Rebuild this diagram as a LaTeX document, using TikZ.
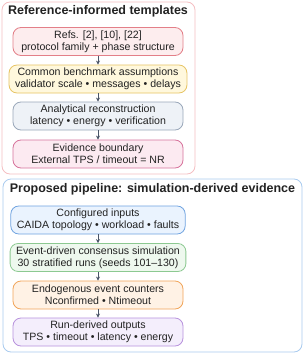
\documentclass[tikz,border=0pt]{standalone}
\usepackage{fontspec}
\setmainfont{Liberation Sans}
\usetikzlibrary{positioning,arrows.meta}

\definecolor{txtc}{HTML}{222222}
\definecolor{arrc}{HTML}{4A5568}
\definecolor{redf}{HTML}{FDEDEE}\definecolor{redd}{HTML}{E37F88}
\definecolor{yelf}{HTML}{FFF8DD}\definecolor{yeld}{HTML}{E6C362}
\definecolor{grYf}{HTML}{EEF2F7}\definecolor{grYd}{HTML}{9AA8BA}
\definecolor{pnkf}{HTML}{FCEAF1}\definecolor{pnkd}{HTML}{D7739C}
\definecolor{bluf}{HTML}{EAF3FE}\definecolor{blud}{HTML}{6FA3E0}
\definecolor{grnf}{HTML}{EEF8EE}\definecolor{grnd}{HTML}{8CC991}
\definecolor{orgf}{HTML}{FFF2E5}\definecolor{orgd}{HTML}{F1A55A}
\definecolor{purf}{HTML}{F4EEFC}\definecolor{purd}{HTML}{B892DD}
\definecolor{topd}{HTML}{F5BFC2}
\definecolor{botd}{HTML}{A9CBEF}

\tikzset{
  stage/.style={draw=#1d, fill=#1f, rounded corners=8pt, line width=0.8pt,
    align=center, minimum width=170pt, minimum height=28pt,
    inner xsep=6pt, inner ysep=2pt, text=txtc,
    font=\fontsize{10.6}{11.8}\selectfont},
  panel/.style={draw=#1, fill=white, rounded corners=8pt, line width=0.8pt},
  paneltitle/.style={font=\fontsize{12.5}{14}\selectfont\bfseries, text=txtc},
  flow/.style={-{Stealth[length=4pt,width=4pt]}, arrc, line width=0.8pt}
}

\begin{document}
\begin{tikzpicture}[x=1pt,y=-1pt]
\useasboundingbox (0,0) rectangle (305,361);

% reference side
\draw[panel=topd] (2,2) rectangle (195,174);
\node[paneltitle] (ttop) at (98,11) {Reference-informed templates};
\node[stage=red] (refs) at (98,41.5) {Refs. [2], [10], [22]\\protocol family + phase structure};
\node[stage=yel] (assume) at (98,79) {Common benchmark assumptions\\validator scale • messages • delays};
\node[stage=grY] (recon) at (98,116) {Analytical reconstruction\\latency • energy • verification};
\node[stage=pnk] (bound) at (98,154) {Evidence boundary\\External TPS / timeout = NR};
\draw[flow] (refs) -- (assume);
\draw[flow] (assume) -- (recon);
\draw[flow] (recon) -- (bound);

% simulation side
\draw[panel=botd] (3,179) rectangle (302,352);
\node[paneltitle] (tbot) at (152.5,189) {Proposed pipeline: simulation-derived evidence};
\node[stage=blu] (inputs) at (98,220) {Configured inputs\\CAIDA topology • workload • faults};
\node[stage=grn] (sim) at (98,257.5) {Event-driven consensus simulation\\30 stratified runs (seeds 101--130)};
\node[stage=org] (count) at (98,295) {Endogenous event counters\\Nconfirmed • Ntimeout};
\node[stage=pur] (outs) at (98,332) {Run-derived outputs\\TPS • timeout • latency • energy};
\draw[flow] (inputs) -- (sim);
\draw[flow] (sim) -- (count);
\draw[flow] (count) -- (outs);
\end{tikzpicture}
\end{document}
